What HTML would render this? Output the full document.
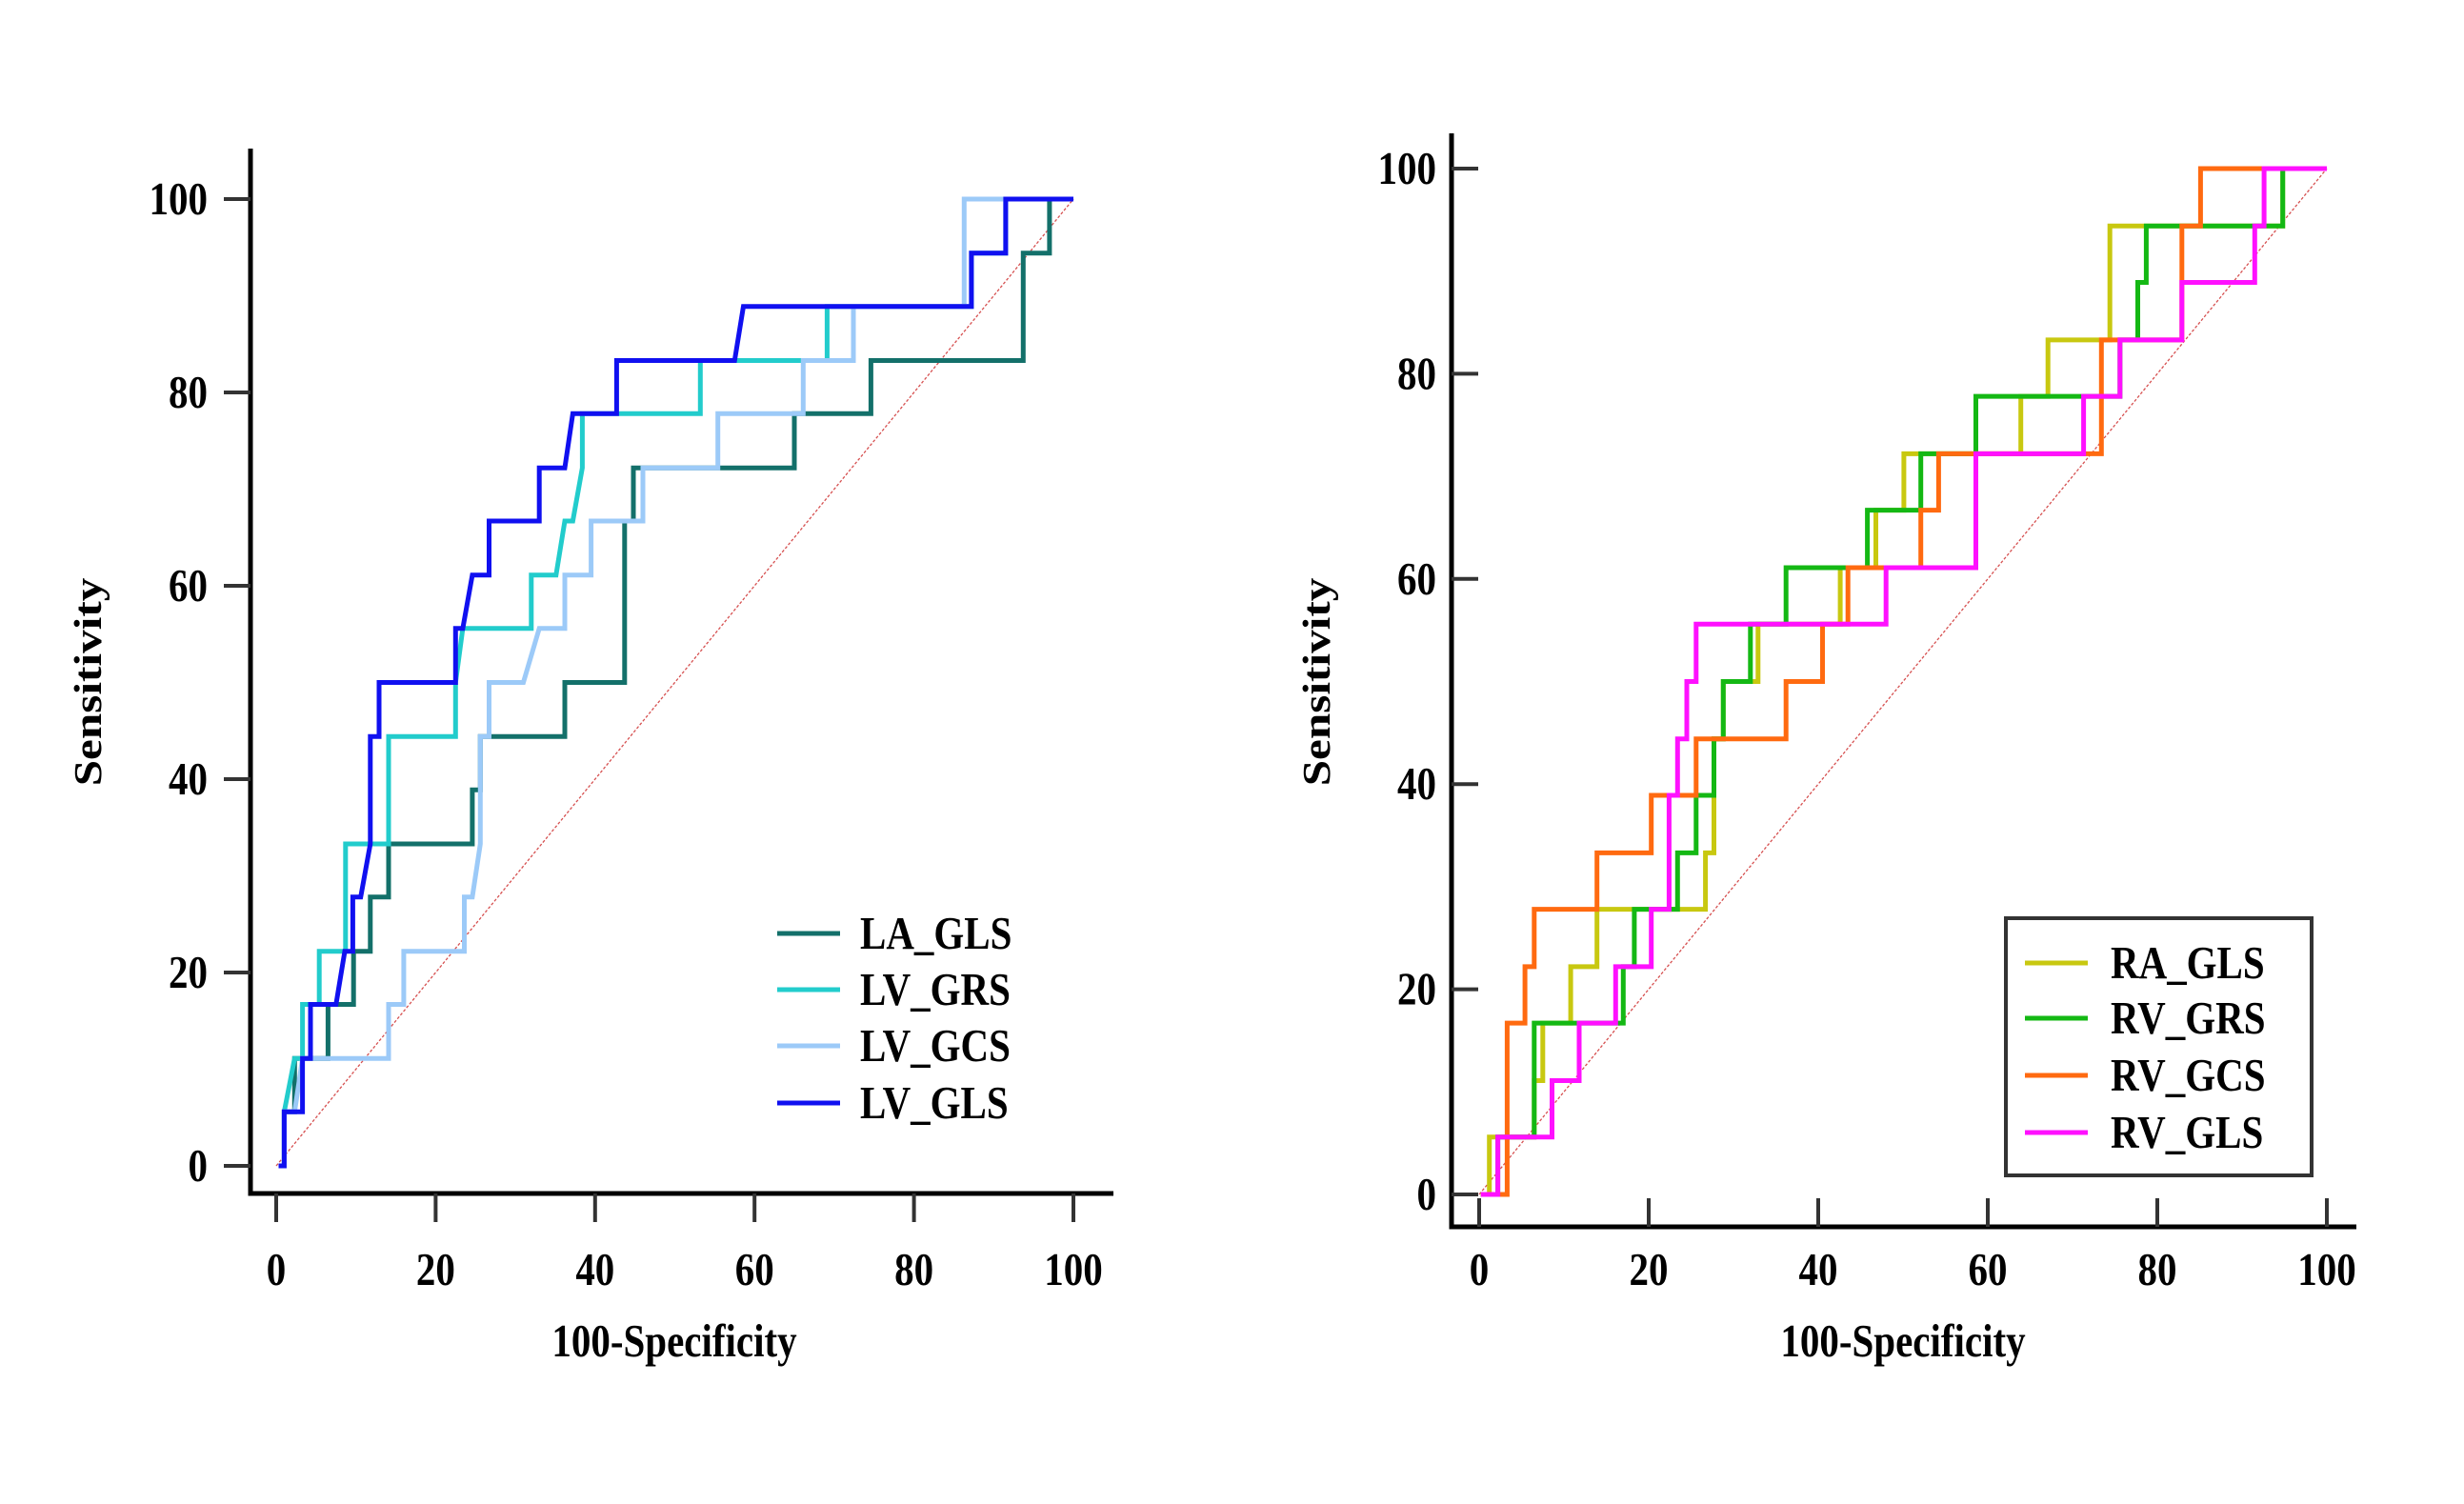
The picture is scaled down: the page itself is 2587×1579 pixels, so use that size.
<!DOCTYPE html>
<html><head><meta charset="utf-8"><style>
html,body{margin:0;padding:0;background:#fff;}
svg{display:block;}
text{font-family:"Liberation Serif",serif;font-weight:bold;fill:#000;}
</style></head><body>
<svg id="fig" width="2587" height="1579" viewBox="0 0 2587 1579" xmlns="http://www.w3.org/2000/svg"></svg>
<script>
// ---- data ----
const tickVals = [0, 20, 40, 60, 80, 100];
const leftNames = ["LA_GLS", "LV_GRS", "LV_GCS", "LV_GLS"];
const rightNames = ["RA_GLS", "RV_GRS", "RV_GCS", "RV_GLS"];

const laGlsX = [0.3,1.0,1.0,2.3,2.3,6.5,6.5,9.7,9.7,11.8,11.8,14.1,14.1,24.6,24.6,25.6,25.6,36.2,36.2,43.7,43.7,44.8,44.8,65.0,65.0,74.6,74.6,93.7,93.7,97.0,97.0,100];
const laGlsY = [0,0,5.6,5.6,11.1,11.1,16.7,16.7,22.2,22.2,27.8,27.8,33.3,33.3,38.9,38.9,44.4,44.4,50,50,66.7,66.7,72.2,72.2,77.8,77.8,83.3,83.3,94.4,94.4,100,100];

const lvGrsX = [0.3,1.0,1.0,2.3,3.3,3.3,5.4,5.4,8.7,8.7,14.1,14.1,22.5,22.5,23.4,32.0,32.0,35.1,36.2,37.2,38.4,38.4,53.2,53.2,69.1,69.1,87.2,87.2,91.5,91.5,100];
const lvGrsY = [0,0,5.6,11.1,11.1,16.7,16.7,22.2,22.2,33.3,33.3,44.4,44.4,50,55.6,55.6,61.1,61.1,66.7,66.7,72.2,77.8,77.8,83.3,83.3,88.9,88.9,94.4,94.4,100,100];

const lvGcsX = [0.3,1.0,1.0,2.3,3.3,14.1,14.1,16.0,16.0,23.6,23.6,24.6,25.6,25.6,26.7,26.7,31.0,33.0,36.2,36.2,39.5,39.5,46.0,46.0,55.4,55.4,66.1,66.1,72.4,72.4,86.3,86.3,100];
const lvGcsY = [0,0,5.6,5.6,11.1,11.1,16.7,16.7,22.2,22.2,27.8,27.8,33.3,44.4,44.4,50,50,55.6,55.6,61.1,61.1,66.7,66.7,72.2,72.2,77.8,77.8,83.3,83.3,88.9,88.9,100,100];

const lvGlsX = [0.3,1.0,1.0,3.3,3.3,4.3,4.3,7.5,8.6,9.6,9.6,10.6,11.8,11.8,12.9,12.9,22.5,22.5,23.4,24.6,26.7,26.7,33.0,33.0,36.2,37.2,42.7,42.7,57.5,58.6,87.2,87.2,91.5,91.5,100];
const lvGlsY = [0,0,5.6,5.6,11.1,11.1,16.7,16.7,22.2,22.2,27.8,27.8,33.3,44.4,44.4,50,50,55.6,55.6,61.1,61.1,66.7,66.7,72.2,72.2,77.8,77.8,83.3,83.3,88.9,88.9,94.4,94.4,100,100];

const raGlsX = [0.2,1.2,1.2,6.5,6.5,7.5,7.5,10.8,10.8,13.9,13.9,26.7,26.7,27.7,27.7,28.8,28.8,32.9,32.9,42.6,42.6,46.8,46.8,50.1,50.1,63.9,63.9,67.1,67.1,74.4,74.4,94.8,94.8,100];
const raGlsY = [0,0,5.6,5.6,11.1,11.1,16.7,16.7,22.2,22.2,27.8,27.8,33.3,33.3,44.4,44.4,50,50,55.6,55.6,61.1,61.1,66.7,66.7,72.2,72.2,77.8,77.8,83.3,83.3,94.4,94.4,100,100];

const rvGrsX = [0.2,2.2,2.2,6.5,6.5,17,17,18.3,18.3,23.4,23.4,25.6,25.6,27.7,27.7,28.8,28.8,32,32,36.2,36.2,45.8,45.8,52.1,52.1,58.6,58.6,75.6,75.6,77.7,77.7,78.7,78.7,94.8,94.8,100];
const rvGrsY = [0,0,5.6,5.6,16.7,16.7,22.2,22.2,27.8,27.8,33.3,33.3,38.9,38.9,44.4,44.4,50,50,55.6,55.6,61.1,61.1,66.7,66.7,72.2,72.2,77.8,77.8,83.3,83.3,88.9,88.9,94.4,94.4,100,100];

const rvGcsX = [0.2,3.3,3.3,5.4,5.4,6.5,6.5,13.9,13.9,20.3,20.3,25.6,25.6,36.2,36.2,40.5,40.5,43.5,43.5,52.1,52.1,54.2,54.2,73.4,73.4,82.9,82.9,85.1,85.1,100];
const rvGcsY = [0,0,16.7,16.7,22.2,22.2,27.8,27.8,33.3,33.3,38.9,38.9,44.4,44.4,50,50,55.6,55.6,61.1,61.1,66.7,66.7,72.2,72.2,83.3,83.3,94.4,94.4,100,100];

const rvGlsX = [0.2,2.2,2.2,8.6,8.6,11.8,11.8,16.1,16.1,20.3,20.3,22.4,22.4,23.4,23.4,24.5,24.5,25.6,25.6,48,48,58.6,58.6,71.3,71.3,75.6,75.6,82.9,82.9,91.5,91.5,92.6,92.6,100];
const rvGlsY = [0,0,5.6,5.6,11.1,11.1,16.7,16.7,22.2,22.2,27.8,27.8,38.9,38.9,44.4,44.4,50,50,55.6,55.6,61.1,61.1,72.2,72.2,77.8,77.8,83.3,83.3,88.9,88.9,94.4,94.4,100,100];

// ---- drawing ----
const NS = "http://www.w3.org/2000/svg";
const svg = document.getElementById("fig");
function mk(tag, attrs, parent) {
  const e = document.createElementNS(NS, tag);
  for (const k in attrs) e.setAttribute(k, attrs[k]);
  (parent || svg).appendChild(e);
  return e;
}
function txt(str, x, y, anchor, rot, parent) {
  const t = mk("text", {x: 0, y: 0, "font-size": 41, "text-anchor": anchor,
    transform: "translate(" + x + "," + y + ") scale(1,1.2)" + (rot ? " rotate(-90)" : "")}, parent);
  t.textContent = str;
  return t;
}

function drawPanel(cfg) {
  const g = mk("g", {});
  
  
  const sx = v => cfg.x0 + (cfg.x1 - cfg.x0) * v / 100;
  const sy = v => cfg.y0 + (cfg.y1 - cfg.y0) * v / 100;

  const diag = mk("line", {x1: sx(0), y1: sy(0), x2: sx(100), y2: sy(100), stroke: "#d65050", "stroke-width": 1.3, "stroke-dasharray": "3,2"}, g);
  
  

  const ya = mk("line", {x1: cfg.axX, y1: cfg.axTop, x2: cfg.axX, y2: cfg.axY + 2.5, stroke: "#000", "stroke-width": 5}, g);
  
  
  const xa = mk("line", {x1: cfg.axX - 2.5, y1: cfg.axY, x2: cfg.axRight, y2: cfg.axY, stroke: "#000", "stroke-width": 5}, g);
  
  

  tickVals.forEach(v => {
    const yt = mk("line", {x1: cfg.axX, y1: sy(v), x2: cfg.axX + cfg.tickDir * 28, y2: sy(v), stroke: "#333", "stroke-width": 4}, g);
    
    
    const yl = txt(String(v), cfg.yLabelX, sy(v) + 16, "end", false, g);
    
    
    const xt = mk("line", {x1: sx(v), y1: cfg.axY, x2: sx(v), y2: cfg.axY - cfg.tickDir * 30, stroke: "#333", "stroke-width": 4}, g);
    
    
    const xl = txt(String(v), sx(v), 1349, "middle", false, g);
    
    
  });

  const xtitle = txt("100-Specificity", cfg.xTitleX, 1424, "middle", false, g);
  
  
  const ytitle = txt("Sensitivity", cfg.yTitleX, 716, "middle", true, g);
  
  

  cfg.series.forEach(s => {
    let d = "";
    s.xs.forEach((xv, i) => { d += (i ? "L" : "M") + sx(xv).toFixed(1) + "," + sy(s.ys[i]).toFixed(1); });
    const p = mk("path", {d: d, fill: "none", stroke: s.color, "stroke-width": 5, "stroke-linejoin": "miter"}, g);
    
    
  });

  if (cfg.legendBox) {
    const b = mk("rect", {x: cfg.legendBox[0], y: cfg.legendBox[1], width: cfg.legendBox[2], height: cfg.legendBox[3], fill: "none", stroke: "#333", "stroke-width": 4}, g);
    
    
  }
  cfg.series.forEach((s, i) => {
    const yy = cfg.legRows[i];
    const lg = mk("g", {}, g);
    
    
    mk("line", {x1: cfg.legX0, y1: yy, x2: cfg.legX1, y2: yy, stroke: s.color, "stroke-width": 5}, lg);
    txt(s.name, cfg.legTextX, yy + 16, "start", false, lg);
  });
}

drawPanel({
  name: "left-roc-chart", x0: 290, x1: 1127, y0: 1224, y1: 209,
  axX: 263, axY: 1253, axTop: 156, axRight: 1169, tickDir: -1,
  yLabelX: 218, xTitleX: 708, yTitleX: 106,
  legX0: 816, legX1: 882, legTextX: 903, legRows: [980, 1039, 1098, 1158],
  series: [
    {name: leftNames[0], xs: laGlsX, ys: laGlsY, color: "#13706a"},
    {name: leftNames[1], xs: lvGrsX, ys: lvGrsY, color: "#22cccc"},
    {name: leftNames[2], xs: lvGcsX, ys: lvGcsY, color: "#9ccaf8"},
    {name: leftNames[3], xs: lvGlsX, ys: lvGlsY, color: "#1010f0"}
  ]
});
drawPanel({
  name: "right-roc-chart", x0: 1553, x1: 2443, y0: 1254, y1: 177,
  axX: 1524, axY: 1288, axTop: 140, axRight: 2474, tickDir: 1,
  yLabelX: 1508, xTitleX: 1998, yTitleX: 1396,
  legendBox: [2106, 964, 321, 270],
  legX0: 2126, legX1: 2192, legTextX: 2216, legRows: [1011, 1069, 1129, 1189],
  series: [
    {name: rightNames[0], xs: raGlsX, ys: raGlsY, color: "#c8c810"},
    {name: rightNames[1], xs: rvGrsX, ys: rvGrsY, color: "#14b814"},
    {name: rightNames[2], xs: rvGcsX, ys: rvGcsY, color: "#ff6a10"},
    {name: rightNames[3], xs: rvGlsX, ys: rvGlsY, color: "#ff10ff"}
  ]
});
</script>
</body></html>
